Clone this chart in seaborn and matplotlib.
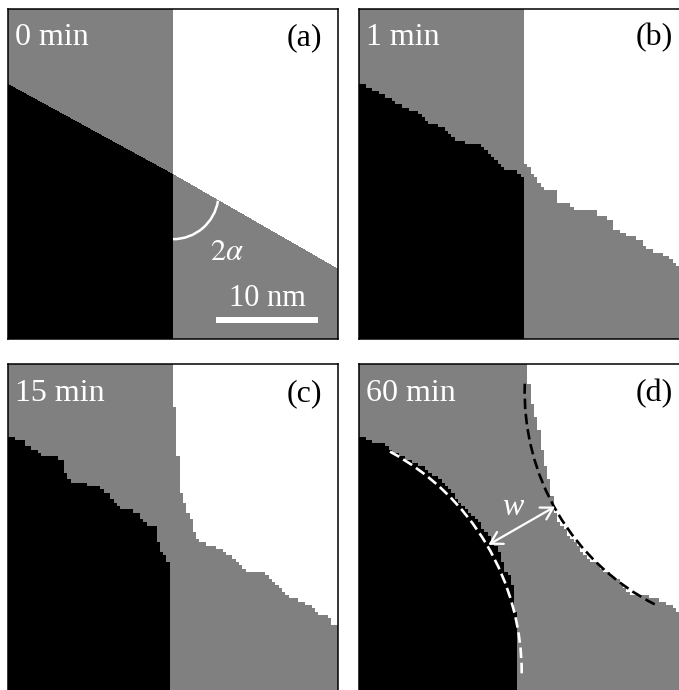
import numpy as np
import pandas as pd
import seaborn as sns
import matplotlib
matplotlib.use("Agg")
import matplotlib.pyplot as plt
from matplotlib.path import Path
from matplotlib.colors import ListedColormap
from matplotlib.patches import Arc

# ---------------- data (panel units: 0..100, y downward) ----------------
panels = ["a", "b", "c", "d"]
times = ["0 min", "1 min", "15 min", "60 min"]
tags = ["(a)", "(b)", "(c)", "(d)"]

# black grain / gray grain boundary (from left edge to bottom edge)
a_black_x = [0, 50, 50]
a_black_y = [22.7, 50, 100]
# white grain / gray grain boundary (from top edge to right edge)
a_white_x = [50, 50, 100]
a_white_y = [0, 50, 78.7]

b_black_x = [0, 3.3, 6.4, 9.4, 10.9, 11.9, 17.5, 20, 20.5, 22.5, 26.1, 27.1, 29.1, 31.6,
             36.7, 39.2, 41.2, 43.7, 48.3, 49.5, 49.5]
b_black_y = [22.2, 24.2, 25.7, 27.2, 27.7, 29.2, 31.3, 33.3, 34.3, 35.3, 35.8, 37.8, 39.8, 40.4,
             41.4, 43.4, 45.4, 48.4, 49.4, 50.9, 100]
b_white_x = [49.8, 49.8, 52.3, 52.8, 54.8, 56.4, 59.9, 59.9, 63.9, 64.9, 72, 72.5, 76.6, 77.6,
             81.6, 85.6, 85.6, 90.7, 94.2, 94.7, 96.8, 100]
b_white_y = [0, 46.4, 48.9, 50.4, 53, 54.5, 55, 58.5, 59, 60.5, 61.5, 63, 64, 67,
             68.6, 70.1, 71.6, 74.1, 75.6, 77.1, 78.1, 80]

c_black_x = [0, 2.1, 4.6, 5.7, 8.2, 10.2, 15.2, 16.8, 17.8, 18.8, 22.8, 28.4, 30.4, 32.4, 33.4,
             37, 39.5, 41.5, 45.1, 45.6, 46.6, 48.1, 48.6, 48.6, 49.1, 49.1]
c_black_y = [21.5, 22.5, 23, 25, 26.1, 27.6, 28.6, 29.6, 34.1, 35.7, 36.2, 37.7, 39.2, 41.7, 43.2,
             44.2, 45.3, 48.3, 49.3, 55.4, 57.4, 58.9, 60.4, 77.6, 80.6, 100]
c_white_x = [49.8, 49.8, 50.6, 50.6, 51.6, 51.6, 52.6, 53.6, 55.1, 56.1, 56.7, 58.7, 63.2, 67.8,
             71.8, 77.9, 81.9, 83.9, 88.9, 93, 94, 97.5, 98.5, 100]
c_white_y = [0, 13.4, 13.4, 27.6, 27.6, 38.2, 38.7, 42.2, 46.3, 47.3, 52.3, 54.3, 55.4, 58.4,
             62.4, 63.4, 67.5, 70, 72, 74, 76.1, 76.6, 78.6, 79.6]

d_black_x = [0, 5.4, 8.4, 10.4, 14.4, 18.5, 22.5, 26.6, 29.6, 32.6, 35.6, 38.7, 41.2, 43.2, 44.7,
             46.3, 47, 47.8, 47.8]
d_black_y = [21.5, 24, 24.5, 26.6, 28.6, 30.6, 33.6, 36.7, 40.7, 43.7, 46.8, 51.3, 54.8, 58.9, 63.9,
             64.9, 71, 78, 100]
d_white_x = [50.8, 51.3, 52.8, 54.3, 55.4, 56.9, 58.9, 59.9, 62.9, 66, 69.5, 74, 78.1, 82.1, 88.2,
             92.2, 95.3, 100]
d_white_y = [0, 4.3, 13.4, 18.5, 25.6, 32.6, 41.7, 46.8, 50.8, 54.8, 58.9, 62.4, 65, 69.5, 70.5,
             72, 74, 76]

black_x = [a_black_x, b_black_x, c_black_x, d_black_x]
black_y = [a_black_y, b_black_y, c_black_y, d_black_y]
white_x = [a_white_x, b_white_x, c_white_x, d_white_x]
white_y = [a_white_y, b_white_y, c_white_y, d_white_y]
grid_n = [330, 100, 100, 100]

# panel (d) fitted circles: centre x, centre y, radius, theta1, theta2
circ_black = [122.4, 8.5, 72.2, 117.0, 182.0]
circ_white = [-26.8, 93.5, 76.1, -61.6, 0.2]

# ---------------- figure ----------------
W, H, DPI = 679, 690, 100
PANEL = 330
origins = [(8, 8.5), (359, 8.5), (8, 364), (359, 364)]

plt.rcParams["mathtext.fontset"] = "stix"
SERIF = "Liberation Serif"
FS = 23

fig = plt.figure(figsize=(W / DPI, H / DPI), dpi=DPI)
cmap = ListedColormap(["#000000", "#808080", "#ffffff"])


def rasterize(n, bx, by, wx, wy):
    c = (np.arange(n) + 0.5) * 100.0 / n
    X, Y = np.meshgrid(c, c)
    pts = np.column_stack([X.ravel(), Y.ravel()])
    bpoly = list(zip(bx, by)) + [(bx[-1], 101), (-1, 101), (-1, by[0])]
    wpoly = list(zip(wx, wy)) + [(101, wy[-1]), (101, -1), (wx[0], -1)]
    g = np.ones(n * n)
    g[Path(bpoly).contains_points(pts)] = 0
    g[Path(wpoly).contains_points(pts)] = 2
    return pd.DataFrame(g.reshape(n, n))


for k in range(4):
    x0, y0 = origins[k]
    rect = [x0 / W, 1 - (y0 + PANEL) / H, PANEL / W, PANEL / H]
    ax = fig.add_axes(rect)
    df = rasterize(grid_n[k], black_x[k], black_y[k], white_x[k], white_y[k])
    sns.heatmap(df, ax=ax, cmap=cmap, vmin=-0.5, vmax=2.5, cbar=False,
                xticklabels=False, yticklabels=False, rasterized=True)
    ax.set_xticks([]); ax.set_yticks([])
    for s in ax.spines.values():
        s.set_visible(True)
        s.set_color("black")
        s.set_linewidth(1.1)

    ov = fig.add_axes(rect)
    ov.set_xlim(0, 100); ov.set_ylim(100, 0)
    ov.axis("off")
    ov.text(2.1, 11.2, times[k], color="white", fontsize=FS, family=SERIF,
            ha="left", va="baseline")
    ov.text(95.2, 11.2, tags[k], color="black", fontsize=FS, family=SERIF,
            ha="right", va="baseline")

    if k == 0:
        ov.add_patch(Arc((50, 56.1), 2 * 13.8, 2 * 13.8, theta1=9, theta2=90,
                         color="white", lw=1.8))
        ov.text(66.3, 76.2, r"$2\alpha$", color="white", fontsize=FS - 1,
                ha="center", va="baseline")
        ov.plot([62.9, 93.8], [94.5, 94.5], color="white", lw=4.3,
                solid_capstyle="butt")
        ov.text(78.5, 90, "10 nm", color="white", fontsize=FS - 1, family=SERIF,
                ha="center", va="baseline")
    if k == 3:
        cx, cy, r, t1, t2 = circ_black
        ov.add_patch(Arc((cx, cy), 2 * r, 2 * r, theta1=t1, theta2=t2,
                         color="black", lw=1.9, linestyle=(0, (4.0, 1.8))))
        cx, cy, r, t1, t2 = circ_white
        ov.add_patch(Arc((cx, cy), 2 * r, 2 * r, theta1=t1, theta2=t2,
                         color="white", lw=1.9, linestyle=(0, (4.0, 1.8))))
        ov.annotate("", xy=(59.4, 43.2), xytext=(39.2, 54.8),
                    arrowprops=dict(arrowstyle="<->,head_length=0.6,head_width=0.35",
                                    color="white", lw=1.6, mutation_scale=14,
                                    shrinkA=0, shrinkB=0))
        ov.text(46.5, 45.8, "w", color="white", fontsize=FS, family=SERIF,
                style="italic", ha="center", va="baseline")

fig.savefig("out.png", dpi=DPI)
